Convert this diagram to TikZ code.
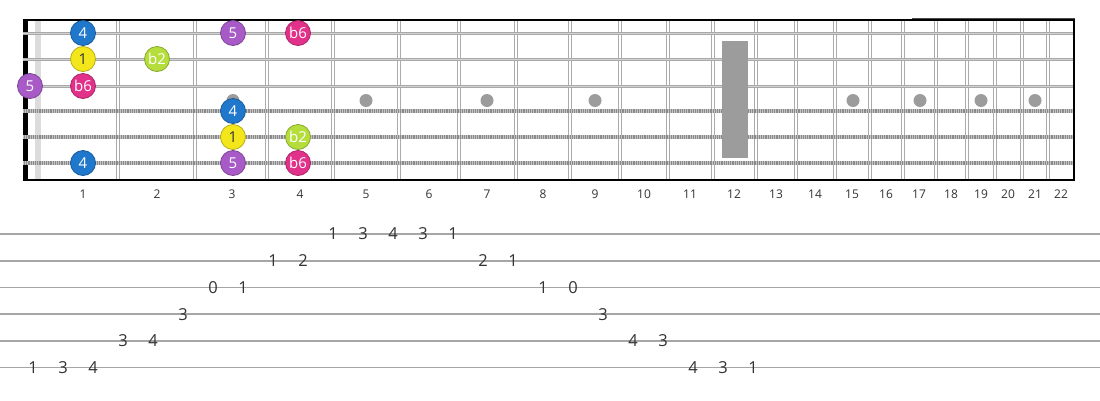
\documentclass[tikz,border=0pt]{standalone}
\usepackage{fontspec}
\setmainfont{Open Sans}
\definecolor{fretc}{HTML}{ABABAB}
\definecolor{bandc}{HTML}{DCDCDC}
\definecolor{inlayc}{HTML}{9C9C9C}
\definecolor{strc}{HTML}{A9A9A9}
\definecolor{strhi}{HTML}{D2D2D2}
\definecolor{woundc}{HTML}{8A8A8A}
\definecolor{tabc}{HTML}{A6A6A6}
\definecolor{txtc}{HTML}{333333}
\definecolor{nblue}{HTML}{1F78CC}
\definecolor{nyellow}{HTML}{F3E71C}
\definecolor{npurple}{HTML}{A85BC6}
\definecolor{npink}{HTML}{E2318A}
\definecolor{nlime}{HTML}{B5DE3C}
\tikzset{
  note/.style={circle, minimum size=25pt, inner sep=0pt, fill=#1, draw=#1!75!black, line width=0.8pt,
    text=white, font=\fontsize{15}{15}\selectfont},
  darknote/.style={note=#1, text=txtc},
  fretnum/.style={text=txtc, font=\fontsize{12}{13}\selectfont, inner sep=0pt},
  tabnum/.style={text=txtc, font=\fontsize{16.5}{17}\selectfont, inner sep=0pt},
  fretline/.style={fretc, line width=1.3pt},
  plainstring/.style={strc, line width=3pt},
  woundstring/.style={woundc, line width=4pt},
  tabline/.style={tabc, line width=1.8pt},
  border/.style={black, line width=2pt}
}
\begin{document}
\begin{tikzpicture}[x=1pt,y=-1pt]
\useasboundingbox (0,0) rectangle (1100,400);
\fill[white] (0,0) rectangle (1100,400);
% light band near nut
\fill[bandc] (35,19) rectangle (41,180);
% frets (double lines)
\foreach \f in {118,195,267,333,399,459,516,570,620,668,713,756,796,835,870,903,936,967,995,1022,1048} {
  \draw[fretline] (\f-1.8,19) -- (\f-1.8,180);
  \draw[fretline] (\f+1.8,19) -- (\f+1.8,180);
}
% inlays
\foreach \x in {233,366,487,595,853,920,981,1035} {
  \fill[inlayc] (\x,100.5) circle (6.5);
}
% nut
\fill[black] (23,19) rectangle (28,181);
% strings
\foreach \y in {33,59,86} {
  \draw[plainstring] (23,\y) -- (1075,\y);
  \draw[strhi, line width=0.9pt] (23,\y) -- (1075,\y);
}
\foreach \y in {111,137,163} {
  \draw[woundstring] (23,\y) -- (1075,\y);
  \draw[white, line width=4pt, dash pattern=on 0.9pt off 1.3pt, opacity=0.5] (23,\y) -- (1075,\y);
}
% 12th fret marker
\fill[inlayc] (722,41) rectangle (748,158);
% borders
\draw[border] (23,19.5) -- (1075,19.5);
\draw[black!70, line width=0.6pt] (912,18.3) -- (1075,18.3);
\draw[border] (23,180) -- (1075,180);
\draw[border] (1074,18.5) -- (1074,181);
% notes
\node[note=nblue] (s1a) at (83,33) {4};
\node[note=npurple] (s1b) at (233,33) {5};
\node[note=npink] (s1c) at (298,33) {b6};
\node[darknote=nyellow] (s2a) at (83,59) {1};
\node[note=nlime] (s2b) at (157,59) {b2};
\node[note=npurple] (s3a) at (30,86) {5};
\node[note=npink] (s3b) at (83,86) {b6};
\node[note=nblue] (s4a) at (233,111) {4};
\node[darknote=nyellow] (s5a) at (233,137) {1};
\node[note=nlime] (s5b) at (298,137) {b2};
\node[note=nblue] (s6a) at (83,163) {4};
\node[note=npurple] (s6b) at (233,163) {5};
\node[note=npink] (s6c) at (298,163) {b6};
% fret numbers
\foreach \x/\n in {83/1,157/2,232/3,300/4,366/5,429/6,487/7,543/8,595/9,644/10,690/11,734/12,776/13,815/14,852/15,886/16,919/17,951/18,981/19,1008/20,1035/21,1061/22} {
  \node[fretnum] (fn\n) at (\x,194.5) {\n};
}
% tab lines
\foreach \y in {234,260.7,287.4,314.1,340.8,367.5} {
  \draw[tabline] (0,\y) -- (1100,\y);
}
% tab numbers
\foreach \x/\y/\n/\k in {
  33/367.5/1/a,63/367.5/3/b,93/367.5/4/c,
  123/340.8/3/d,153/340.8/4/e,
  183/314.1/3/f,
  213/287.4/0/g,243/287.4/1/h,
  273/260.7/1/i,303/260.7/2/j,
  333/234/1/k,363/234/3/l,393/234/4/m,423/234/3/n,453/234/1/o,
  483/260.7/2/p,513/260.7/1/q,
  543/287.4/1/r,573/287.4/0/s,
  603/314.1/3/t,
  633/340.8/4/u,663/340.8/3/v,
  693/367.5/4/w,723/367.5/3/x,753/367.5/1/y} {
  \node[tabnum] (t\k) at (\x,\y) {\n};
}
\end{tikzpicture}
\end{document}
